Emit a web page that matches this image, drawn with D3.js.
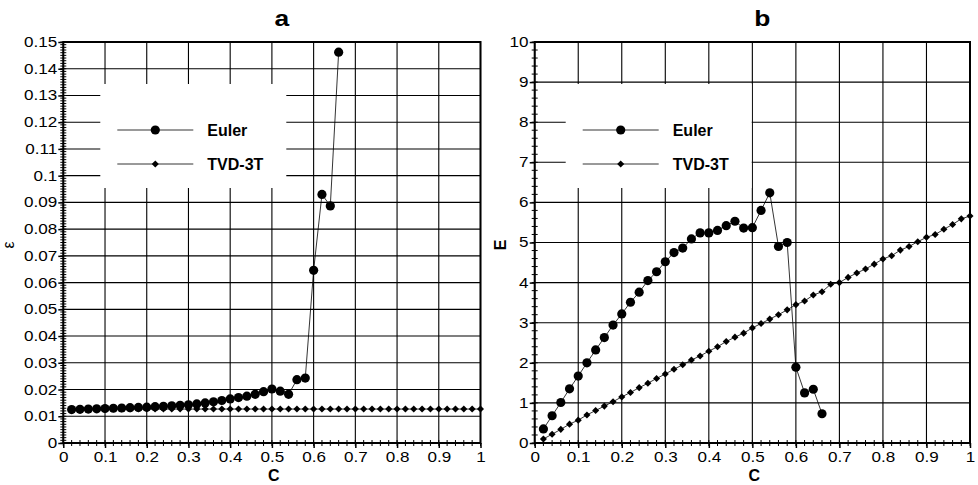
<!DOCTYPE html>
<html>
<head>
<meta charset="utf-8">
<script src="https://cdn.jsdelivr.net/npm/d3@7"></script>
<style>
  body { margin: 0; background: #fff; }
  svg { font-family: "Liberation Sans", Arial, sans-serif; }
</style>
</head>
<body>
<svg id="chart" width="978" height="485"></svg>
<script>
// Courant number values
var cEuler = [0.02, 0.04, 0.06, 0.08, 0.10, 0.12, 0.14, 0.16, 0.18, 0.20, 0.22, 0.24, 0.26, 0.28, 0.30, 0.32,
              0.34, 0.36, 0.38, 0.40, 0.42, 0.44, 0.46, 0.48, 0.50, 0.52, 0.54, 0.56, 0.58, 0.60, 0.62, 0.64, 0.66];
var cTvd = [0.02, 0.04, 0.06, 0.08, 0.10, 0.12, 0.14, 0.16, 0.18, 0.20, 0.22, 0.24, 0.26, 0.28, 0.30, 0.32, 0.34,
            0.36, 0.38, 0.40, 0.42, 0.44, 0.46, 0.48, 0.50, 0.52, 0.54, 0.56, 0.58, 0.60, 0.62, 0.64, 0.66, 0.68,
            0.70, 0.72, 0.74, 0.76, 0.78, 0.80, 0.82, 0.84, 0.86, 0.88, 0.90, 0.92, 0.94, 0.96, 0.98, 1.00];

// panel a : epsilon
var epsEuler = [0.0125, 0.0126, 0.0127, 0.0128, 0.0129, 0.0130, 0.0131, 0.0132, 0.0133, 0.0134, 0.0136,
                0.0137, 0.0139, 0.0141, 0.0143, 0.0146, 0.0150, 0.0154, 0.0159, 0.0165, 0.0170, 0.0175,
                0.0182, 0.0192, 0.0202, 0.0194, 0.0182, 0.0237, 0.0243, 0.0646, 0.0930, 0.0887, 0.1462];
var epsTvd = [0.0127, 0.0127, 0.0127, 0.0127, 0.0127, 0.0127, 0.0127, 0.0127, 0.0127, 0.0127,
              0.0127, 0.0127, 0.0127, 0.0127, 0.0127, 0.0127, 0.0127, 0.0127, 0.0127, 0.0127,
              0.0127, 0.0127, 0.0127, 0.0127, 0.0127, 0.0127, 0.0127, 0.0127, 0.0127, 0.0127,
              0.0127, 0.0127, 0.0127, 0.0127, 0.0127, 0.0127, 0.0127, 0.0127, 0.0127, 0.0127,
              0.0127, 0.0127, 0.0127, 0.0127, 0.0127, 0.0127, 0.0127, 0.0127, 0.0127, 0.0127];

// panel b : E
var eEuler = [0.35, 0.68, 1.01, 1.35, 1.67, 2.00, 2.32, 2.63, 2.94, 3.22, 3.51, 3.76, 4.05, 4.27, 4.52, 4.75,
              4.86, 5.09, 5.24, 5.24, 5.30, 5.42, 5.53, 5.36, 5.37, 5.80, 6.24, 4.90, 5.00, 1.89, 1.25, 1.34, 0.73];
var eTvd = [0.10, 0.22, 0.34, 0.47, 0.57, 0.70, 0.81, 0.92, 1.03, 1.15, 1.26, 1.38, 1.49, 1.61, 1.72, 1.84, 1.95,
            2.07, 2.17, 2.29, 2.40, 2.53, 2.64, 2.74, 2.87, 2.98, 3.09, 3.20, 3.32, 3.45, 3.54, 3.69, 3.77, 3.96,
            4.00, 4.13, 4.24, 4.34, 4.46, 4.59, 4.67, 4.81, 4.90, 5.02, 5.13, 5.20, 5.33, 5.45, 5.59, 5.66];

var xTicks = [0, 0.1, 0.2, 0.3, 0.4, 0.5, 0.6, 0.7, 0.8, 0.9, 1];
var epsTicks = [0, 0.01, 0.02, 0.03, 0.04, 0.05, 0.06, 0.07, 0.08, 0.09, 0.1, 0.11, 0.12, 0.13, 0.14, 0.15];
var eTicks = [0, 1, 2, 3, 4, 5, 6, 7, 8, 9, 10];
var seriesNames = ["Euler", "TVD-3T"];

var svg = d3.select("#chart");

function fmt(d) { return String(+d.toFixed(2)); }

function drawPanel(opt) {
    var x = d3.scaleLinear().domain([0, 1]).range([opt.left, opt.right]);
    var y = d3.scaleLinear().domain([0, opt.yMax]).range([443, 42]);
    var g = svg.append("g");

    // grid
    g.append("g").selectAll("line").data(xTicks).enter().append("line")
        .attr("x1", function(d) { return x(d); }).attr("x2", function(d) { return x(d); })
        .attr("y1", y(0)).attr("y2", y(opt.yMax))
        .attr("stroke", "#000").attr("stroke-width", 1.1);
    g.append("g").selectAll("line").data(opt.yTicks).enter().append("line")
        .attr("x1", x(0)).attr("x2", x(1))
        .attr("y1", function(d) { return y(d); }).attr("y2", function(d) { return y(d); })
        .attr("stroke", "#000").attr("stroke-width", 1.1);

    // legend box (hides grid)
    var lx = opt.left + opt.legendDx;
    g.append("rect").attr("x", lx).attr("y", 84).attr("width", 186).attr("height", 104).attr("fill", "#fff");

    // minor ticks
    var minorX = d3.range(0, 1.0001, 0.02);
    g.append("g").selectAll("line").data(minorX).enter().append("line")
        .attr("x1", function(d) { return x(d); }).attr("x2", function(d) { return x(d); })
        .attr("y1", y(0) - 3).attr("y2", y(0) + 3)
        .attr("stroke", "#000").attr("stroke-width", 1);
    var minorY = d3.range(0, opt.yMax + 1e-9, opt.yMinor);
    g.append("g").selectAll("line").data(minorY).enter().append("line")
        .attr("x1", x(0) - 3).attr("x2", x(0) + 3)
        .attr("y1", function(d) { return y(d); }).attr("y2", function(d) { return y(d); })
        .attr("stroke", "#000").attr("stroke-width", 1);

    // axes
    var xAxis = d3.axisBottom(x).tickValues(xTicks).tickFormat(fmt).tickSize(5).tickPadding(4);
    var yAxis = d3.axisLeft(y).tickValues(opt.yTicks).tickFormat(fmt).tickSize(5).tickPadding(0);
    var gx = g.append("g").attr("transform", "translate(0," + y(0) + ")").call(xAxis);
    var gy = g.append("g").attr("transform", "translate(" + x(0) + ",0)").call(yAxis);
    [gx, gy].forEach(function(a) {
        a.select(".domain").remove();
        a.selectAll("line").attr("stroke", "#000").attr("stroke-width", 1.5);
        a.selectAll("text").attr("font-size", 14).attr("fill", "#000")
         .attr("font-family", "'Liberation Sans', Arial, sans-serif")
         .attr("transform", "scale(1.22,1)");
    });

    // frame
    g.append("rect").attr("x", x(0)).attr("y", y(opt.yMax))
        .attr("width", x(1) - x(0)).attr("height", y(0) - y(opt.yMax))
        .attr("fill", "none").attr("stroke", "#000").attr("stroke-width", 2);

    // series
    var line = d3.line().x(function(d) { return x(d[0]); }).y(function(d) { return y(d[1]); });
    var eul = d3.zip(cEuler, opt.euler);
    var tvd = d3.zip(cTvd, opt.tvd);
    g.append("path").datum(tvd).attr("d", line).attr("fill", "none").attr("stroke", "#000").attr("stroke-width", 0.8);
    g.append("path").datum(eul).attr("d", line).attr("fill", "none").attr("stroke", "#000").attr("stroke-width", 0.8);

    var diamond = d3.symbol().type(d3.symbolDiamond2).size(32);
    g.append("g").selectAll("path").data(tvd).enter().append("path")
        .attr("d", diamond)
        .attr("transform", function(d) { return "translate(" + x(d[0]) + "," + y(d[1]) + ")"; })
        .attr("fill", "#000");
    g.append("g").selectAll("circle").data(eul).enter().append("circle")
        .attr("cx", function(d) { return x(d[0]); }).attr("cy", function(d) { return y(d[1]); })
        .attr("r", 4.6).attr("fill", "#000");

    // legend entries
    var leg = g.append("g");
    [130, 164].forEach(function(ly, i) {
        leg.append("line").attr("x1", lx + 17).attr("x2", lx + 93).attr("y1", ly).attr("y2", ly)
            .attr("stroke", "#000").attr("stroke-width", 0.8);
        if (i == 0) {
            leg.append("circle").attr("cx", lx + 55).attr("cy", ly).attr("r", 4.6).attr("fill", "#000");
        } else {
            leg.append("path").attr("d", diamond).attr("transform", "translate(" + (lx + 55) + "," + ly + ")").attr("fill", "#000");
        }
        leg.append("text").attr("x", lx + 107).attr("y", ly + 6)
            .attr("font-size", 16).attr("font-weight", "bold").text(seriesNames[i]);
    });

    // titles
    g.append("text").attr("transform", "translate(" + ((x(0) + x(1)) / 2 + 10) + ",26) scale(1.2,1)")
        .attr("text-anchor", "middle")
        .attr("font-size", 22).attr("font-weight", "bold").text(opt.title);
    g.append("text").attr("x", (x(0) + x(1)) / 2 + 2).attr("y", 481).attr("text-anchor", "middle")
        .attr("font-size", 16).attr("font-weight", "bold").text("C");
    g.append("text").attr("transform", "translate(" + opt.yLabelX + ",245) rotate(-90)")
        .attr("text-anchor", "middle").attr("font-size", opt.yLabelSize)
        .attr("font-weight", opt.yLabelWeight).text(opt.yLabel);
}

drawPanel({ left: 63.3, right: 480.5, yMax: 0.15, yTicks: epsTicks, yMinor: 0.001,
            euler: epsEuler, tvd: epsTvd, legendDx: 37, title: "a",
            yLabel: "ε", yLabelX: 14, yLabelSize: 16, yLabelWeight: "normal" });
drawPanel({ left: 534.7, right: 970, yMax: 10, yTicks: eTicks, yMinor: 0.2,
            euler: eEuler, tvd: eTvd, legendDx: 31, title: "b",
            yLabel: "E", yLabelX: 506, yLabelSize: 16, yLabelWeight: "bold" });
</script>
</body>
</html>
